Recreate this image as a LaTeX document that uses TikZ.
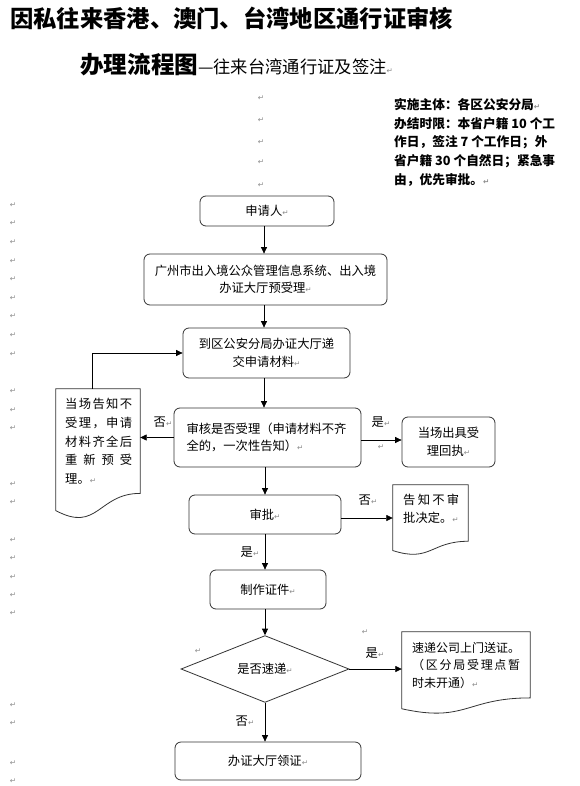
\documentclass[tikz,border=0pt]{standalone}
\usepackage{fontspec}
\setmainfont{Noto Sans CJK SC}
\newfontfamily\djv{DejaVu Sans}
\usetikzlibrary{arrows.meta,calc,shapes.geometric}
\newcommand\rt{{\djv\fontsize{7.5}{7.5}\selectfont\textcolor{black!45}{↵}}}
\newcommand\docpath[1]{%
  \draw[docline] (#1.north west) -- (#1.north east)
    -- ($(#1.north east)!0.802!(#1.south east)$)
    .. controls ($(#1.north)!0.802!(#1.south)$) and ($(#1.north)!1.107!(#1.south)$)
    .. ($(#1.north west)!0.934!(#1.south west)$) -- cycle;}
\begin{document}
\begin{tikzpicture}[x=1pt,y=-1pt,
  box/.style={draw=black!80,line width=0.8pt,rounded corners=6pt,inner sep=0pt,align=center,font=\fontsize{12.3}{17.5}\selectfont},
  doc/.style={inner sep=0pt},
  doctext/.style={inner sep=0pt,align=left,anchor=north west},
  lab/.style={inner sep=0pt,font=\fontsize{12.3}{14}\selectfont},
  arr/.style={draw=black,line width=0.7pt,-{Triangle[length=6.5pt,width=6pt]}},
  docline/.style={draw=black!80,line width=0.8pt},
  pm/.style={inner sep=0pt}]
\fill[white] (0,0) rectangle (580,786);
\useasboundingbox (0,0) rectangle (580,786);

% titles
\node[anchor=base west,inner sep=0pt,font=\bfseries\fontsize{23.3}{28}\selectfont] (title1) at (10,28) {因私往来香港、澳门、台湾地区通行证审核};
\node[anchor=base west,inner sep=0pt] (title2) at (80,74) {{\bfseries\fontsize{23.6}{28}\selectfont 办理流程图}{\fontsize{17.3}{20}\selectfont —往来台湾通行证及签注}\rt};

\node[anchor=north west,inner sep=0pt,align=left,font=\bfseries\fontsize{12.7}{18.8}\selectfont] (info) at (394,98) {实施主体：各区公安分局\rt\\办结时限：本省户籍 10 个工\\作日，签注 7 个工作日；外\\省户籍 30 个自然日；紧急事\\由，优先审批。\rt};

% paragraph marks
\foreach \yy [count=\i] in {98,120,142,162,185} \node[pm] (cm\i) at (261,\yy) {\rt};
\foreach \yy [count=\i] in {205,223,242,261,279,298,316,335,354,391,410,428,484,502,540,558,577,595,613,705,723,763,781} \node[pm] (lm\i) at (13,\yy) {\rt};

\coordinate (spine) at (264,0);
\coordinate (spinelow) at (265,0);

% boxes
\node[box,minimum width=134pt,minimum height=30pt] (b1) at (267,211) {申请人\rt};
\node[box,minimum width=243pt,minimum height=51pt] (b2) at (265.5,279.5) {广州市出入境公众管理信息系统、出入境\\办证大厅预受理\rt};
\node[box,minimum width=167pt,minimum height=50pt] (b3) at (266.5,353) {到区公安分局办证大厅递\\交申请材料\rt};
\node[box,minimum width=187pt,minimum height=59pt,text width=162pt,align=left] (b4) at (267.5,437.5) {审核是否受理（申请材料不齐\\全的，一次性告知）\rt};
\node[box,minimum width=93pt,minimum height=50pt] (b5) at (448.5,442) {当场出具受\\理回执\rt};
\node[box,minimum width=152pt,minimum height=39pt] (sp) at (265,514.5) {审批\rt};
\node[box,minimum width=116pt,minimum height=39pt] (zz) at (268,589.5) {制作证件\rt};
\node[draw=black!80,line width=0.8pt,diamond,inner sep=0pt,minimum width=168pt,minimum height=61pt,font=\fontsize{12.3}{14}\selectfont] (dia) at (265,669) {是否速递\rt};
\node[box,minimum width=186pt,minimum height=38pt] (lz) at (268,761) {办证大厅领证\rt};

% document shapes
\node[doc,minimum width=84pt,minimum height=130pt] (d1) at (98,454) {};
\node[doc,minimum width=75pt,minimum height=70pt] (d2) at (430.5,520) {};
\node[doc,minimum width=128pt,minimum height=82pt] (d3) at (466,673) {};
\docpath{d1}
\docpath{d2}
\docpath{d3}

\node[doctext,font=\fontsize{12.3}{18.8}\selectfont] (d1t) at (65,398) {\makebox[67pt][l]{当\hfill 场\hfill 告\hfill 知\hfill 不}\\\makebox[67pt][l]{受\hfill 理\hfill ，\hfill 申\hfill 请}\\\makebox[67pt][l]{材\hfill 料\hfill 齐\hfill 全\hfill 后}\\\makebox[67pt][l]{重\hfill 新\hfill 预\hfill 受}\\理。\rt};
\node[doctext,font=\fontsize{12.3}{18}\selectfont] (d2t) at (403,494) {\makebox[56pt][l]{告\hfill 知\hfill 不\hfill 审}\\批决定。\rt};
\node[doctext,font=\fontsize{12}{17.5}\selectfont] (d3t) at (412,642) {速递公司上门送证。\\\makebox[108pt][l]{（\hfill 区\hfill 分\hfill 局\hfill 受\hfill 理\hfill 点\hfill 暂}\\时未开通）\rt};

% labels
\node[lab] (l1) at (163,422) {否\rt};
\node[lab] (l2) at (381,422) {是\rt};
\node[pm] (p1) at (381,447) {\rt};
\node[lab] (l3) at (368,500) {否\rt};
\node[lab] (l4) at (250,552) {是\rt};
\node[lab] (l5) at (375,653) {是\rt};
\node[lab] (l6) at (245,721) {否\rt};
\node[pm] (p2) at (198,651) {\rt};
\node[pm] (p3) at (365,632) {\rt};

% connectors
\draw[arr] (b1.south -| spine) -- (b2.north -| spine);
\draw[arr] (b2.south -| spine) -- (b3.north -| spine);
\draw[arr] (b3.south -| spine) -- (b4.north -| spine);
\draw[arr] (b4.south -| spinelow) -- (sp.north -| spinelow);
\draw[arr] (sp.south -| spinelow) -- (zz.north -| spinelow);
\draw[arr] (zz.south -| spinelow) -- (dia.north);
\draw[arr] (dia.south) -- (lz.north -| dia.south);
\draw[arr] (b4.west) -- (b4.west -| d1.east);
\draw[arr] ([xshift=-6pt]d1.north) |- (b3.west);
\draw[arr] ([yshift=-2.5pt]b4.east) -- ([yshift=-2.5pt]b4.east -| b5.west);
\draw[arr] ([yshift=-3.5pt]sp.east) -- ([yshift=-3.5pt]sp.east -| d2.west);
\draw[arr] (dia.east) -- (dia.east -| d3.west);
\end{tikzpicture}
\end{document}
